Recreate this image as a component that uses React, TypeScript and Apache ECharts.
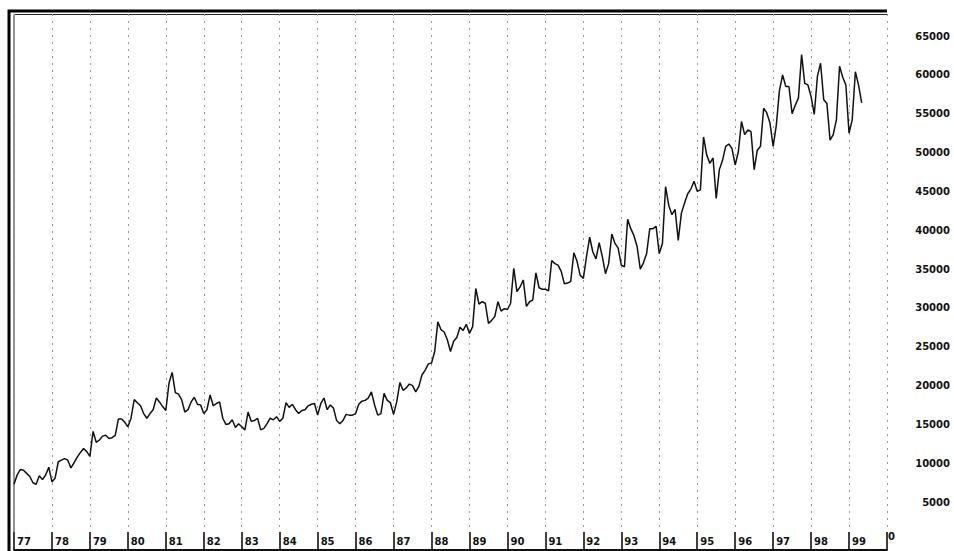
import React, { useEffect, useRef } from "react";
import * as echarts from "echarts";

const startYear = 1977;
const endYear = 2000;
const yTicks = [0, 5000, 10000, 15000, 20000, 25000, 30000, 35000, 40000, 45000, 50000, 55000, 60000, 65000];
const yearLabels = ["77","78","79","80","81","82","83","84","85","86","87","88","89","90","91","92","93","94","95","96","97","98","99"];

// monthly values, Jan 1977 .. May 1999
const monthlyValues = [
  7300, 8500, 9200, 9100, 8700, 8300, 7500, 7300, 8400, 7900, 8500, 9500,
  7600, 8100, 10200, 10400, 10600, 10400, 9400, 10100, 10800, 11400, 11900, 11500,
  10900, 14100, 12700, 13000, 13500, 13600, 13200, 13300, 13600, 15700, 15700, 15300,
  14700, 15800, 18200, 17800, 17400, 16400, 15800, 16400, 16900, 18400, 17900, 17300,
  16800, 20300, 21700, 19100, 18900, 18200, 16600, 16900, 17900, 18500, 17600, 17500,
  16400, 16900, 18800, 17400, 17700, 17900, 15800, 15000, 15100, 15600, 14600, 15100,
  14700, 14300, 16600, 15400, 15500, 15800, 14300, 14500, 15100, 15800, 15600, 16000,
  15400, 15800, 17800, 17200, 17600, 16900, 16400, 16800, 16900, 17400, 17600, 17700,
  16200, 17700, 18400, 16900, 17500, 17100, 15500, 15100, 15500, 16300, 16200, 16200,
  16400, 17600, 18000, 18100, 18400, 19200, 17500, 16200, 16400, 19000, 18100, 17800,
  16300, 17900, 20400, 19400, 19700, 20200, 20000, 19200, 19900, 21400, 22000, 22800,
  22900, 24400, 28200, 27200, 26900, 25900, 24400, 25700, 26200, 27500, 27100, 27900,
  26700, 27600, 32500, 30500, 30800, 30600, 28000, 28400, 28900, 30800, 29600, 29900,
  29800, 30600, 35100, 32100, 32700, 33600, 30200, 30800, 31000, 34500, 32600, 32400,
  32400, 32200, 36100, 35700, 35500, 34700, 33100, 33200, 33400, 37100, 36000, 34200,
  33800, 36600, 39100, 37200, 36300, 38400, 36600, 34400, 35700, 39500, 38300, 37700,
  35500, 35300, 41400, 40200, 39300, 37900, 35000, 35800, 37000, 40200, 40200, 40500,
  37000, 38300, 45600, 43200, 42000, 42700, 38700, 42200, 43500, 44700, 45300, 46300,
  45000, 45200, 52000, 49700, 48600, 49300, 44100, 47800, 49000, 50800, 51100, 50500,
  48400, 50100, 54000, 52300, 52900, 52700, 47800, 50300, 50800, 55700, 55100, 53800,
  50800, 53500, 58000, 60000, 58500, 58500, 55000, 56100, 57000, 62600, 58900, 58700,
  57200, 54900, 59800, 61500, 56800, 56300, 51600, 52300, 54200, 61100, 59700, 58700,
  52500, 54200, 60400, 58700, 56400
];

const FONT = "DejaVu Sans";

export default function App() {
  const ref = useRef<HTMLDivElement>(null);
  useEffect(() => {
    if (!ref.current) return;
    const chart = echarts.init(ref.current, null, { renderer: "svg" });
    const lineData = monthlyValues.map((v, i) => [startYear + i / 12, v]);
    chart.setOption({
      animation: false,
      backgroundColor: "#ffffff",
      grid: [
        { left: 14, right: 67, top: 36, bottom: 10 },
        { left: 14, right: 67, top: 14, bottom: 19 },
        { left: 14, right: 67, top: 532, bottom: 1 },
      ],
      xAxis: [
        {
          gridIndex: 0, type: "value", min: startYear, max: endYear, interval: 1,
          axisLine: { show: false }, axisTick: { show: false }, axisLabel: { show: false },
          splitLine: { show: false },
        },
        {
          gridIndex: 1, type: "value", min: startYear, max: endYear, interval: 1,
          axisLine: { show: false }, axisTick: { show: false }, axisLabel: { show: false },
          splitLine: { show: true, lineStyle: { color: "#9a9a9a", type: [2, 5], width: 1 } },
        },
        {
          gridIndex: 2, type: "value", min: startYear, max: endYear, interval: 1,
          position: "top",
          axisLine: { show: true, lineStyle: { color: "#000", width: 1.5 } },
          axisTick: { show: false },
          splitLine: { show: true, lineStyle: { color: "#000", type: "solid", width: 1.5 } },
          axisLabel: {
            inside: true, align: "left", verticalAlign: "top", margin: 4,
            padding: [0, 0, 0, 3],
            fontFamily: FONT, fontWeight: "bold", fontSize: 10, color: "#111",
            formatter: (v: number) => {
              const idx = Math.round(v) - startYear;
              return idx >= 0 && idx < yearLabels.length ? yearLabels[idx] : "";
            },
          },
        },
        {
          gridIndex: 2, type: "value", min: startYear, max: endYear, interval: 1,
          position: "bottom",
          axisLine: { show: true, lineStyle: { color: "#000", width: 1.5 } },
          axisTick: { show: false }, axisLabel: { show: false }, splitLine: { show: false },
        },
      ],
      yAxis: [
        {
          gridIndex: 0, type: "value", min: 0, max: 65000, interval: 5000, position: "right",
          axisLine: { show: false }, axisTick: { show: false }, splitLine: { show: false },
          axisLabel: {
            align: "right", margin: 63,
            fontFamily: FONT, fontWeight: "bold", fontSize: 10, color: "#111",
            formatter: (v: number) => {
              if (!yTicks.includes(v)) return "";
              return v === 0 ? "{z|0}" : String(v);
            },
            rich: {
              z: { padding: [0, 55, 10, 0], fontFamily: FONT, fontWeight: "bold", fontSize: 10, color: "#111" },
            },
          },
        },
        { gridIndex: 1, type: "value", show: false },
        { gridIndex: 2, type: "value", show: false },
      ],
      series: [
        {
          type: "line",
          xAxisIndex: 0, yAxisIndex: 0,
          data: lineData,
          showSymbol: false,
          lineStyle: { color: "#111", width: 1.5 },
          silent: true,
        },
      ],
      graphic: [
        {
          type: "polyline", silent: true,
          shape: { points: [[9, 551], [9, 11], [887, 11]] },
          style: { stroke: "#000", lineWidth: 3, fill: null },
        },
        {
          type: "polyline", silent: true,
          shape: { points: [[14, 532], [14, 14.5], [887, 14.5]] },
          style: { stroke: "#222", lineWidth: 1, fill: null },
        },
      ],
    });
    return () => chart.dispose();
  }, []);
  return <div ref={ref} style={{ width: 954, height: 551, position: "absolute", left: 0, top: 0 }} />;
}
